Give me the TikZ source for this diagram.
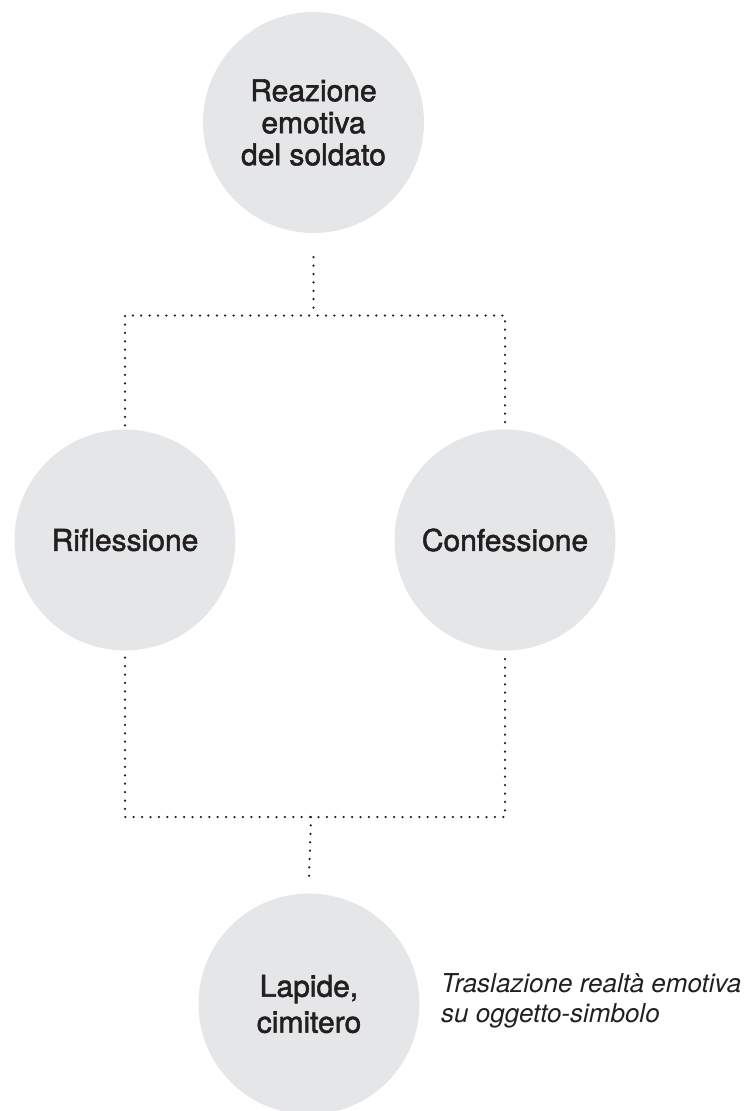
\documentclass[tikz,border=0pt]{standalone}
\usepackage{fontspec}
\setmainfont{TeX Gyre Heros}
\newfontface\labelface{TeX Gyre Heros}[FakeBold=1.8]
\definecolor{bubblefill}{RGB}{229,230,232}
\definecolor{ink}{RGB}{35,31,32}
\begin{document}
\begin{tikzpicture}[x=1pt,y=-1pt,
  bubble/.style={circle, fill=bubblefill, inner sep=0pt, minimum size=221pt,
    text=ink, align=center, font=\labelface\fontsize{30}{32}\selectfont},
  dotline/.style={draw=ink, line width=2.5pt, line cap=round,
    dash pattern=on 0pt off 8.4pt}]
\useasboundingbox (0,0) rectangle (749,1111);

% circles
\node[bubble] (emo) at (313.5,122.5) {Reazione\\emotiva\\del soldato};
\node[bubble] (rif) at (125,540) {Riflessione};
\node[bubble] (conf) at (505,540) {Confessione};
\node[bubble, font=\labelface\fontsize{30}{36}\selectfont] (lap) at (309,1004) {Lapide,\\cimitero};
% caption beside the last circle (base anchor sits on the last line)
\node[anchor=base west, align=left, text=ink, inner sep=0pt,
  font=\fontsize{26}{30}\selectfont\itshape] (note) at (441,1022)
  {Traslazione realtà emotiva\\su oggetto-simbolo};

% junctions of the dotted connectors
\coordinate (jt) at (313.5,315.5);
\coordinate (jb) at (311,817);

% dotted connectors
\draw[dotline] ([yshift=-24pt]emo.south) -- (jt);
\draw[dotline] ([yshift=4pt]rif.north) |- (jt) -| ([yshift=4pt]conf.north);
\draw[dotline] ([yshift=-7pt]rif.south) |- (jb) -| ([yshift=-7pt]conf.south);
\draw[dotline] (jb) -- ([yshift=15pt]lap.north);
\end{tikzpicture}
\end{document}
